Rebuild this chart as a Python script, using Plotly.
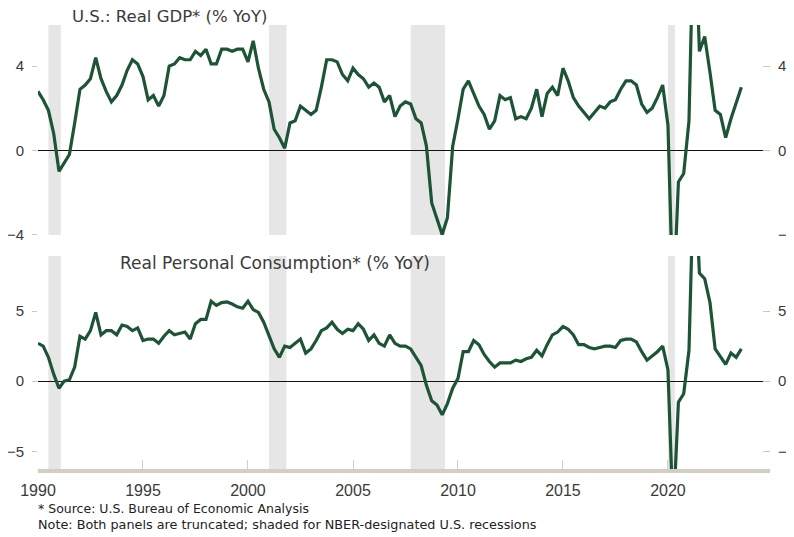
import pandas as pd
import plotly.graph_objects as go

# quarterly, 1990Q1 .. 2023Q3
quarters = pd.date_range("1990-01-01", periods=135, freq="QS")

gdp_yoy = [
    2.8, 2.4, 1.9, 0.8,      # 1990
    -1.0, -0.6, -0.2, 1.3,   # 1991
    2.9, 3.1, 3.4, 4.4,      # 1992
    3.4, 2.8, 2.3, 2.6,      # 1993
    3.1, 3.8, 4.3, 4.1,      # 1994
    3.5, 2.4, 2.6, 2.1,      # 1995
    2.6, 4.0, 4.1, 4.4,      # 1996
    4.3, 4.3, 4.7, 4.5,      # 1997
    4.8, 4.1, 4.1, 4.8,      # 1998
    4.8, 4.7, 4.8, 4.8,      # 1999
    4.2, 5.2, 3.9, 2.9,      # 2000
    2.3, 1.0, 0.6, 0.1,      # 2001
    1.3, 1.4, 2.1, 1.9,      # 2002
    1.7, 1.9, 3.0, 4.3,      # 2003
    4.3, 4.2, 3.6, 3.3,      # 2004
    3.9, 3.6, 3.4, 3.0,      # 2005
    3.2, 3.0, 2.3, 2.6,      # 2006
    1.6, 2.1, 2.3, 2.2,      # 2007
    1.5, 1.3, 0.2, -2.5,     # 2008
    -3.3, -4.0, -3.2, 0.2,   # 2009
    1.5, 2.9, 3.3, 2.7,      # 2010
    2.1, 1.7, 1.0, 1.4,      # 2011
    2.6, 2.4, 2.5, 1.5,      # 2012
    1.6, 1.5, 2.0, 2.9,      # 2013
    1.6, 2.7, 3.0, 2.6,      # 2014
    3.9, 3.3, 2.5, 2.1,      # 2015
    1.8, 1.5, 1.8, 2.1,      # 2016
    2.0, 2.3, 2.4, 2.9,      # 2017
    3.3, 3.3, 3.1, 2.2,      # 2018
    1.8, 2.0, 2.5, 3.1,      # 2019
    1.2, -7.5, -1.5, -1.1,   # 2020
    1.4, 12.0, 4.7, 5.4,     # 2021
    3.7, 1.9, 1.7, 0.6,      # 2022
    1.5, 2.2, 3.0,           # 2023
]

pce_yoy = [
    2.7, 2.5, 1.7, 0.5,      # 1990
    -0.5, 0.0, 0.1, 1.0,     # 1991
    3.2, 3.0, 3.6, 4.9,      # 1992
    3.3, 3.6, 3.6, 3.3,      # 1993
    4.0, 3.9, 3.6, 3.8,      # 1994
    2.9, 3.0, 3.0, 2.7,      # 1995
    3.2, 3.6, 3.3, 3.4,      # 1996
    3.5, 3.0, 4.1, 4.4,      # 1997
    4.4, 5.7, 5.4, 5.6,      # 1998
    5.65, 5.5, 5.3, 5.2,     # 1999
    5.7, 5.1, 4.9, 4.2,      # 2000
    3.2, 2.3, 1.7, 2.5,      # 2001
    2.4, 2.7, 3.0, 2.0,      # 2002
    2.3, 2.9, 3.6, 3.8,      # 2003
    4.2, 3.7, 3.4, 3.7,      # 2004
    3.6, 4.1, 3.7, 2.9,      # 2005
    3.3, 2.7, 2.5, 3.3,      # 2006
    2.7, 2.5, 2.5, 2.3,      # 2007
    1.7, 1.1, -0.3, -1.4,    # 2008
    -1.7, -2.4, -1.6, -0.5,  # 2009
    0.2, 2.1, 2.1, 2.9,      # 2010
    2.6, 1.9, 1.4, 1.0,      # 2011
    1.3, 1.3, 1.3, 1.5,      # 2012
    1.4, 1.6, 1.7, 2.2,      # 2013
    1.8, 2.6, 3.3, 3.5,      # 2014
    3.9, 3.7, 3.3, 2.6,      # 2015
    2.6, 2.4, 2.3, 2.4,      # 2016
    2.5, 2.5, 2.4, 2.9,      # 2017
    3.0, 3.0, 2.8, 2.1,      # 2018
    1.5, 1.8, 2.1, 2.5,      # 2019
    0.8, -9.8, -1.5, -0.9,   # 2020
    2.2, 16.0, 7.7, 7.3,     # 2021
    5.6, 2.3, 1.8, 1.2,      # 2022
    2.0, 1.7, 2.3,           # 2023
]

recessions = [
    ("1990-07-01", "1991-02-01"),
    ("2001-01-01", "2001-11-01"),
    ("2007-10-01", "2009-05-20"),
    ("2020-01-01", "2020-05-01"),
]

top_ticks = [-4, 0, 4]
bottom_ticks = [-5, 0, 5]
year_ticks = ["1990", "1995", "2000", "2005", "2010", "2015", "2020"]

LINE = "#1c5435"
TEXT = "#3a3a3a"
FONT = "Liberation Sans, Arial, sans-serif"
WIDE = "DejaVu Sans, sans-serif"
X_RANGE = ["1990-01-01", "2024-11-10"]

fig = go.Figure()
fig.add_trace(go.Scatter(x=quarters, y=gdp_yoy, mode="lines", xaxis="x", yaxis="y",
                         line={"color": LINE, "width": 3.2}))
fig.add_trace(go.Scatter(x=quarters, y=pce_yoy, mode="lines", xaxis="x2", yaxis="y2",
                         line={"color": LINE, "width": 3.2}))
# empty traces so the right-hand axes get drawn
fig.add_trace(go.Scatter(x=[None], y=[None], xaxis="x", yaxis="y3", hoverinfo="skip"))
fig.add_trace(go.Scatter(x=[None], y=[None], xaxis="x2", yaxis="y4", hoverinfo="skip"))

for x0, x1 in recessions:
    for xref, yref in [("x", "y domain"), ("x2", "y2 domain")]:
        fig.add_shape(type="rect", xref=xref, yref=yref,
                      x0=x0, x1=x1, y0=0, y1=1, fillcolor="#e6e6e6",
                      line={"width": 0}, layer="below")

tick_font = {"size": 15, "color": TEXT}


def left_axis(domain, rng, ticks):
    return {
        "domain": domain, "range": rng, "tickvals": ticks, "showgrid": False,
        "zeroline": True, "zerolinecolor": "#111111", "zerolinewidth": 1.3,
        "ticks": "outside", "ticklen": 5, "tickcolor": "#c8c8c8",
        "tickfont": tick_font, "ticklabelstandoff": 5, "showline": False,
        "automargin": False,
    }


def right_axis(over, rng, ticks):
    return {
        "overlaying": over, "side": "right", "range": rng, "tickvals": ticks,
        "showgrid": False, "zeroline": False, "ticks": "inside", "ticklen": 7,
        "tickcolor": "#c8c8c8", "tickfont": tick_font, "ticklabelstandoff": 7,
        "showline": False, "automargin": False,
    }


top_range = [-4.02, 5.95]
bottom_range = [-6.26, 8.93]

# page body adds an 8px offset, so the figure is 8px smaller each way
fig.update_layout(
    width=786, height=529,
    paper_bgcolor="white", plot_bgcolor="white",
    font={"family": FONT, "color": TEXT},
    showlegend=False,
    margin={"l": 30, "r": 24, "t": 17, "b": 68, "autoexpand": False},
    xaxis={"range": X_RANGE, "anchor": "y", "showticklabels": False, "ticks": "",
           "showgrid": False, "zeroline": False, "showline": False, "automargin": False},
    xaxis2={"range": X_RANGE, "anchor": "y2", "tickvals": year_ticks, "ticktext": year_ticks,
            "showgrid": False, "zeroline": False,
            "showline": True, "linecolor": "#d4cdc2", "linewidth": 4,
            "ticks": "inside", "ticklen": 9, "tickcolor": "#cfcfcf",
            "tickfont": {"size": 16, "color": TEXT}, "ticklabelstandoff": 4,
            "automargin": False},
    yaxis=left_axis([0.527, 1.0], top_range, top_ticks),
    yaxis2=left_axis([0.0, 0.48], bottom_range, bottom_ticks),
    yaxis3=right_axis("y", top_range, top_ticks),
    yaxis4=right_axis("y2", bottom_range, bottom_ticks),
)

fig.add_annotation(text="U.S.: Real GDP* (% YoY)", xref="paper", yref="paper",
                   x=0.0437, y=1.02, xanchor="left", yanchor="middle", showarrow=False,
                   font={"family": WIDE, "size": 16.5, "color": TEXT})
fig.add_annotation(text="Real Personal Consumption* (% YoY)", xref="paper", yref="paper",
                   x=0.109, y=0.464, xanchor="left", yanchor="middle", showarrow=False,
                   font={"family": WIDE, "size": 17, "color": TEXT})
fig.add_annotation(text="* Source: U.S. Bureau of Economic Analysis", xref="paper", yref="paper",
                   x=-0.003, y=-0.088, xanchor="left", yanchor="middle", showarrow=False,
                   font={"family": WIDE, "size": 12.5, "color": "#222222"})
fig.add_annotation(text="Note: Both panels are truncated; shaded for NBER-designated U.S. recessions",
                   xref="paper", yref="paper", x=-0.003, y=-0.124, xanchor="left",
                   yanchor="middle", showarrow=False,
                   font={"family": WIDE, "size": 12.8, "color": "#222222"})

fig.write_html("out.html")
